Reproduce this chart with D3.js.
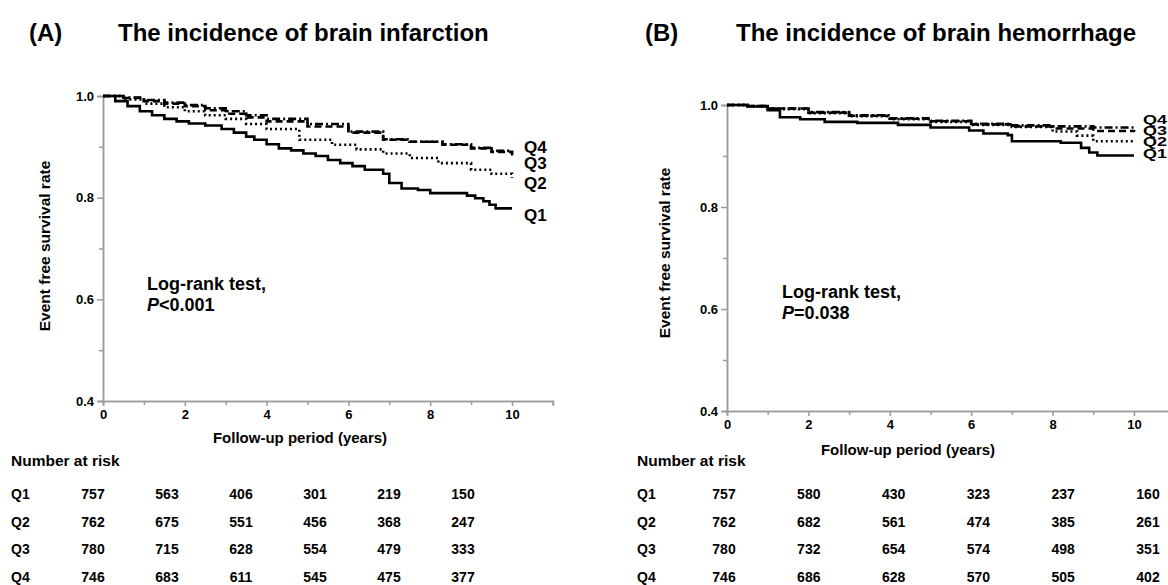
<!DOCTYPE html>
<html>
<head>
<meta charset="utf-8">
<script src="https://cdn.jsdelivr.net/npm/d3@7"></script>
<style>
  body { margin: 0; background: #fff; }
  svg text { font-family: "Liberation Sans", Arial, sans-serif; font-weight: bold; fill: #000; }
</style>
</head>
<body>
<div id="chart"></div>
<script>
// ---- data ----
const groups = ["Q1", "Q2", "Q3", "Q4"];
const riskYears = [0, 2, 4, 6, 8, 10];

// panel A: brain infarction (Kaplan-Meier steps)
const aQ1_t = [0, 0.3, 0.6, 0.9, 1.2, 1.5, 1.8, 2.1, 2.5, 2.9, 3.2, 3.5, 3.7, 4.0, 4.3, 4.6, 4.9, 5.2, 5.5, 5.8, 6.1, 6.4, 6.85, 7.0, 7.3, 7.7, 8.0, 8.9, 9.1, 9.3, 9.45, 9.6, 10];
const aQ1_s = [1, 0.99, 0.98, 0.97, 0.962, 0.955, 0.95, 0.946, 0.942, 0.935, 0.928, 0.92, 0.914, 0.905, 0.897, 0.893, 0.887, 0.882, 0.874, 0.868, 0.862, 0.855, 0.847, 0.829, 0.818, 0.815, 0.809, 0.804, 0.799, 0.793, 0.786, 0.779, 0.779];
const aQ2_t = [0, 0.5, 1, 1.5, 2, 2.5, 3, 3.5, 4, 4.8, 5.6, 6.2, 6.85, 7.5, 8.2, 9.0, 9.5, 10];
const aQ2_s = [1, 0.993, 0.985, 0.978, 0.97, 0.962, 0.955, 0.945, 0.935, 0.914, 0.904, 0.895, 0.887, 0.878, 0.868, 0.855, 0.847, 0.839];
const aQ3_t = [0, 0.5, 1, 1.5, 2, 2.5, 3, 3.5, 4, 5, 6, 6.85, 7.5, 8.3, 9, 9.5, 10];
const aQ3_s = [1, 0.996, 0.99, 0.985, 0.98, 0.972, 0.965, 0.958, 0.95, 0.94, 0.928, 0.914, 0.91, 0.904, 0.897, 0.89, 0.883];
const aQ4_t = [0, 0.5, 1, 1.5, 2, 2.5, 3, 3.5, 4, 5, 6, 6.85, 7.5, 8.3, 9, 9.5, 10];
const aQ4_s = [1, 0.997, 0.992, 0.987, 0.982, 0.976, 0.97, 0.962, 0.955, 0.945, 0.93, 0.915, 0.91, 0.905, 0.898, 0.892, 0.887];

// panel B: brain hemorrhage
const bQ1_t = [0, 0.5, 1.0, 1.3, 1.8, 2.4, 3.2, 4.2, 5.0, 5.95, 6.3, 6.9, 7.0, 8.2, 8.7, 8.9, 9.1, 10];
const bQ1_s = [1, 0.997, 0.99, 0.976, 0.972, 0.967, 0.965, 0.961, 0.956, 0.95, 0.944, 0.941, 0.929, 0.926, 0.916, 0.907, 0.901, 0.901];
const bQ2_t = [0, 0.5, 1, 2, 3, 4, 5, 6, 7, 8, 8.6, 9.0, 10];
const bQ2_s = [1, 0.998, 0.992, 0.984, 0.978, 0.972, 0.967, 0.961, 0.957, 0.948, 0.94, 0.929, 0.927];
const bQ3_t = [0, 0.5, 1, 2, 3, 4, 5, 6, 7, 8, 9, 10];
const bQ3_s = [1, 0.998, 0.993, 0.985, 0.979, 0.973, 0.968, 0.962, 0.958, 0.954, 0.949, 0.947];
const bQ4_t = [0, 0.5, 1, 2, 3, 4, 5, 6, 7, 8, 9, 10];
const bQ4_s = [1, 0.998, 0.993, 0.986, 0.98, 0.974, 0.969, 0.963, 0.96, 0.958, 0.956, 0.954];

// number at risk tables
const riskA_Q1 = [757, 563, 406, 301, 219, 150];
const riskA_Q2 = [762, 675, 551, 456, 368, 247];
const riskA_Q3 = [780, 715, 628, 554, 479, 333];
const riskA_Q4 = [746, 683, 611, 545, 475, 377];
const riskB_Q1 = [757, 580, 430, 323, 237, 160];
const riskB_Q2 = [762, 682, 561, 474, 385, 261];
const riskB_Q3 = [780, 732, 654, 574, 498, 351];
const riskB_Q4 = [746, 686, 628, 570, 505, 402];

const zip = (t, s) => t.map((d, i) => ({ t: d, s: s[i] }));

const width = 1168, height = 585;
const svg = d3.select("#chart").append("svg")
  .attr("width", width)
  .attr("height", height);

const dashes = { Q1: null, Q2: "2,3", Q3: "7,4", Q4: "8,3,2,3" };

function drawPanel(p) {
  const x = d3.scaleLinear().domain([0, 11]).range([p.left, p.left + 11 * p.pxYear]);
  const y = d3.scaleLinear().domain([0.4, 1.0]).range([p.bottom, p.top]);
  const g = svg.append("g");

  // letter + title
  g.append("text").attr("x", p.letterX).attr("y", 41).style("font-size", "24px").text(p.letter);
  g.append("text").attr("x", p.titleX).attr("y", 41).style("font-size", "24px").text(p.title);

  // axes
  g.append("g").attr("transform", `translate(${p.left},0)`)
    .call(d3.axisLeft(y).tickValues([0.4, 0.6, 0.8, 1.0]).tickFormat(d3.format(".1f")).tickSize(6).tickPadding(3));
  g.append("g").attr("transform", `translate(${p.left},0)`)
    .call(d3.axisLeft(y).tickValues([0.5, 0.7, 0.9]).tickFormat("").tickSize(4));
  g.append("g").attr("transform", `translate(0,${p.bottom})`)
    .call(d3.axisBottom(x).tickValues([0, 2, 4, 6, 8, 10]).tickFormat(d3.format("d")).tickSize(5).tickPadding(4));
  g.append("g").attr("transform", `translate(0,${p.bottom})`)
    .call(d3.axisBottom(x).tickValues([1, 3, 5, 7, 9, 11]).tickFormat("").tickSize(4));
  g.selectAll(".domain, .tick line").attr("stroke", "#9b9b9b").attr("stroke-width", 1.5);
  g.selectAll(".tick text").style("font-size", "13px").style("font-family", "Liberation Sans, Arial, sans-serif").style("font-weight", "bold").attr("fill", "#000");

  // axis titles
  g.append("text")
    .attr("transform", `translate(${p.yTitleX},${p.yTitleY}) rotate(-90)`)
    .attr("text-anchor", "middle").style("font-size", "15.5px")
    .text("Event free survival rate");
  g.append("text").attr("x", p.xTitleX).attr("y", p.xTitleY)
    .attr("text-anchor", "middle").style("font-size", "15px")
    .text("Follow-up period (years)");

  // curves
  const line = d3.line().x(d => x(d.t)).y(d => y(d.s)).curve(d3.curveStepAfter);
  p.series.forEach((ser, i) => {
    g.append("path").datum(ser)
      .attr("fill", "none").attr("stroke", "#000").attr("stroke-width", 2.6)
      .attr("stroke-dasharray", dashes[groups[i]])
      .attr("d", line);
  });

  // end labels (Q1..Q4)
  p.labelY.forEach((ly, i) => {
    g.append("text")
      .attr("transform", `translate(${p.labelX},${ly}) scale(1,${p.labelSqueeze})`)
      .attr("dominant-baseline", "middle").style("font-size", p.labelSize)
      .text(groups[i]);
  });

  // log-rank annotation
  g.append("text").attr("x", p.lrX).attr("y", p.lrY).style("font-size", "18px").text("Log-rank test,");
  const l2 = g.append("text").attr("x", p.lrX).attr("y", p.lrY + 21).style("font-size", "18px");
  l2.append("tspan").style("font-style", "italic").text("P");
  l2.append("tspan").text(p.pText);

  // number at risk
  g.append("text").attr("x", p.tableLeft).attr("y", 466).style("font-size", "15.5px").text("Number at risk");
  const rowY = [499, 527, 554, 582];
  p.risk.forEach((row, i) => {
    g.append("text").attr("x", p.tableLeft).attr("y", rowY[i]).style("font-size", "14px").text(groups[i]);
    row.forEach((v, j) => {
      g.append("text").attr("x", p.colX(riskYears[j])).attr("y", rowY[i])
        .attr("text-anchor", "middle").style("font-size", "14px").text(v);
    });
  });
}

drawPanel({
  letter: "(A)", letterX: 29, title: "The incidence of brain infarction", titleX: 118,
  left: 103, pxYear: 40.9, top: 96, bottom: 401,
  yTitleX: 50, yTitleY: 246, xTitleX: 300, xTitleY: 443,
  series: [zip(aQ1_t, aQ1_s), zip(aQ2_t, aQ2_s), zip(aQ3_t, aQ3_s), zip(aQ4_t, aQ4_s)],
  labelX: 524, labelY: [217, 185, 165, 149], labelSize: "17px", labelSqueeze: 1,
  lrX: 147, lrY: 290, pText: "<0.001",
  tableLeft: 11, colX: d3.scaleLinear().domain([0, 10]).range([93, 463]),
  risk: [riskA_Q1, riskA_Q2, riskA_Q3, riskA_Q4]
});

drawPanel({
  letter: "(B)", letterX: 645, title: "The incidence of brain hemorrhage", titleX: 736,
  left: 727, pxYear: 40.7, top: 105, bottom: 411,
  yTitleX: 670, yTitleY: 253, xTitleX: 908, xTitleY: 455,
  series: [zip(bQ1_t, bQ1_s), zip(bQ2_t, bQ2_s), zip(bQ3_t, bQ3_s), zip(bQ4_t, bQ4_s)],
  labelX: 1143, labelY: [155, 143, 132, 121], labelSize: "18px", labelSqueeze: 0.72,
  lrX: 782, lrY: 298, pText: "=0.038",
  tableLeft: 637, colX: d3.scaleLinear().domain([0, 10]).range([724, 1148]),
  risk: [riskB_Q1, riskB_Q2, riskB_Q3, riskB_Q4]
});
</script>
</body>
</html>
